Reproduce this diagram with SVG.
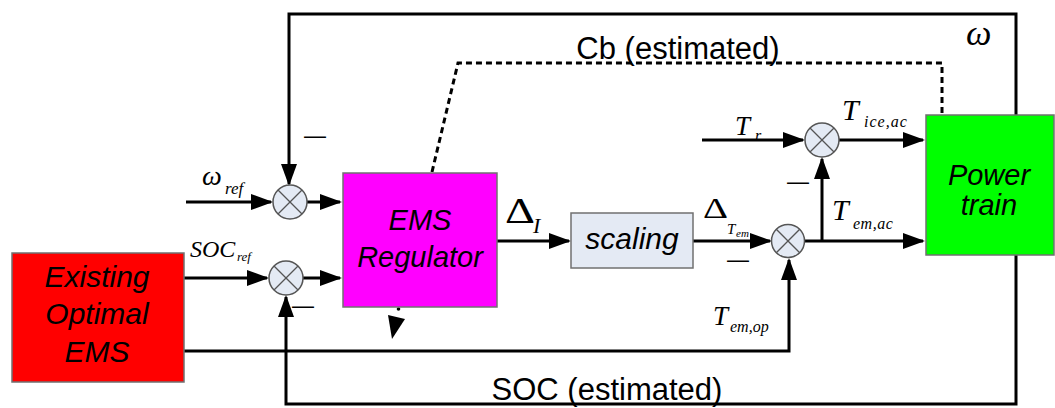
<svg xmlns="http://www.w3.org/2000/svg" width="1055" height="408" viewBox="0 0 1055 408">
<style>
.ln{fill:none;stroke:#000;stroke-width:3}
.dash{fill:none;stroke:#000;stroke-width:3;stroke-dasharray:6,4}
.box{stroke:#707070;stroke-width:1.5}
.bt{font-family:"Liberation Sans",Arial,sans-serif;font-style:italic;fill:#000;text-anchor:middle}
.lab{font-family:"Liberation Sans",Arial,sans-serif;fill:#000}
.m{font-family:"Liberation Serif","Times New Roman",serif;font-style:italic;fill:#000}
.mu{font-family:"Liberation Serif","Times New Roman",serif;fill:#000}
.sum circle{fill:#E4EAF4;stroke:#555;stroke-width:1.5}
.sum line{stroke:#555;stroke-width:1.3}
.minus{font-family:"Liberation Sans",Arial,sans-serif;font-size:22px;fill:#000}
</style>
<defs>
<marker id="ah" markerUnits="userSpaceOnUse" markerWidth="24" markerHeight="18" viewBox="0 0 24 18" refX="20" refY="9" orient="auto">
<path d="M0,1 L22,9 L0,17 z" fill="#000"/>
</marker>
</defs>

<g id="connectors">
<path class="ln" d="M1016,115 L1016,14 L289,14 L289,184" marker-end="url(#ah)"/>
<path class="ln" d="M1016,255 L1016,404 L286,404 L286,297" marker-end="url(#ah)"/>
<path class="ln" d="M186,202 L271,202" marker-end="url(#ah)"/>
<path class="ln" d="M307,202 L340,202" marker-end="url(#ah)"/>
<path class="ln" d="M184,278 L267,278" marker-end="url(#ah)"/>
<path class="ln" d="M303,278 L340,278" marker-end="url(#ah)"/>
<path class="ln" d="M497,241 L569,241" marker-end="url(#ah)"/>
<path class="ln" d="M693,241 L770,241" marker-end="url(#ah)"/>
<path class="ln" d="M184,351 L789,351 L789,260" marker-end="url(#ah)"/>
<path class="ln" d="M805,241 L923,241" marker-end="url(#ah)"/>
<path class="ln" d="M822,241 L822,159" marker-end="url(#ah)"/>
<path class="ln" d="M702,140 L803,140" marker-end="url(#ah)"/>
<path class="ln" d="M839,140 L923,140" marker-end="url(#ah)"/>
<path class="dash" d="M432,172 L458,63 L942,63 L942,115"/>
<circle cx="398.5" cy="309" r="1.8" fill="#000"/>
<polygon points="388,315 405,319 392,339" fill="#000"/>
</g>

<g id="existing-ems">
<rect class="box" x="12" y="253" width="172" height="129" fill="#FF0000"/>
<text class="bt" x="97" y="287" font-size="30">Existing</text>
<text class="bt" x="97" y="324" font-size="30">Optimal</text>
<text class="bt" x="97" y="362" font-size="30">EMS</text>
</g>

<g id="ems-regulator">
<rect class="box" x="343" y="173" width="154" height="134" fill="#FF00FF"/>
<text class="bt" x="420" y="230" font-size="29">EMS</text>
<text class="bt" x="420" y="267" font-size="29">Regulator</text>
</g>

<g id="scaling">
<rect class="box" x="571" y="213" width="122" height="55" fill="#E4EAF4"/>
<text class="bt" x="632" y="249" font-size="30">scaling</text>
</g>

<g id="power-train">
<rect class="box" x="926" y="115" width="128" height="140" fill="#00FF00"/>
<text class="bt" x="989" y="185" font-size="29">Power</text>
<text class="bt" x="989" y="215" font-size="29">train</text>
</g>

<g id="sum-omega" class="sum">
<circle cx="290" cy="202" r="17"/>
<line x1="278" y1="190" x2="302" y2="214"/><line x1="302" y1="190" x2="278" y2="214"/>
</g>
<g id="sum-soc" class="sum">
<circle cx="286" cy="278" r="17"/>
<line x1="274" y1="266" x2="298" y2="290"/><line x1="298" y1="266" x2="274" y2="290"/>
</g>
<g id="sum-tem" class="sum">
<circle cx="788" cy="241" r="16.5"/>
<line x1="776.3" y1="229.3" x2="799.7" y2="252.7"/><line x1="799.7" y1="229.3" x2="776.3" y2="252.7"/>
</g>
<g id="sum-tice" class="sum">
<circle cx="822" cy="140" r="17"/>
<line x1="810" y1="128" x2="834" y2="152"/><line x1="834" y1="128" x2="810" y2="152"/>
</g>

<g id="labels">
<text class="lab" x="678" y="59" font-size="31" text-anchor="middle">Cb (estimated)</text>
<text class="lab" x="607" y="400" font-size="31" text-anchor="middle">SOC (estimated)</text>
<text class="m" x="966" y="45" font-size="36">ω</text>
<text class="m" x="202" y="185" font-size="28">ω</text><text class="m" x="225" y="194" font-size="17">ref</text>
<text class="m" x="190" y="257" font-size="24">SOC</text><text class="m" x="237" y="261" font-size="13">ref</text>
<text class="mu" x="505" y="223" font-size="36" textLength="30" lengthAdjust="spacingAndGlyphs">Δ</text><text class="m" x="533" y="233" font-size="22">I</text>
<text class="mu" x="703" y="218" font-size="30" textLength="25" lengthAdjust="spacingAndGlyphs">Δ</text><text class="m" x="727" y="234" font-size="15">T</text><text class="m" x="736" y="237" font-size="11">em</text>
<text class="m" x="735" y="135" font-size="27">T</text><text class="m" x="755" y="141" font-size="16">r</text>
<text class="m" x="842" y="120" font-size="30">T</text><text class="m" x="864" y="127" font-size="16" letter-spacing="1">ice,ac</text>
<text class="m" x="832" y="220" font-size="30">T</text><text class="m" x="853" y="229" font-size="16" letter-spacing="0.5">em,ac</text>
<text class="m" x="713" y="325" font-size="27">T</text><text class="m" x="730" y="332" font-size="16">em,op</text>
<text class="minus" x="304" y="143">—</text>
<text class="minus" x="292" y="313">—</text>
<text class="minus" x="727" y="267">—</text>
<text class="minus" x="787" y="189">—</text>
</g>
</svg>
